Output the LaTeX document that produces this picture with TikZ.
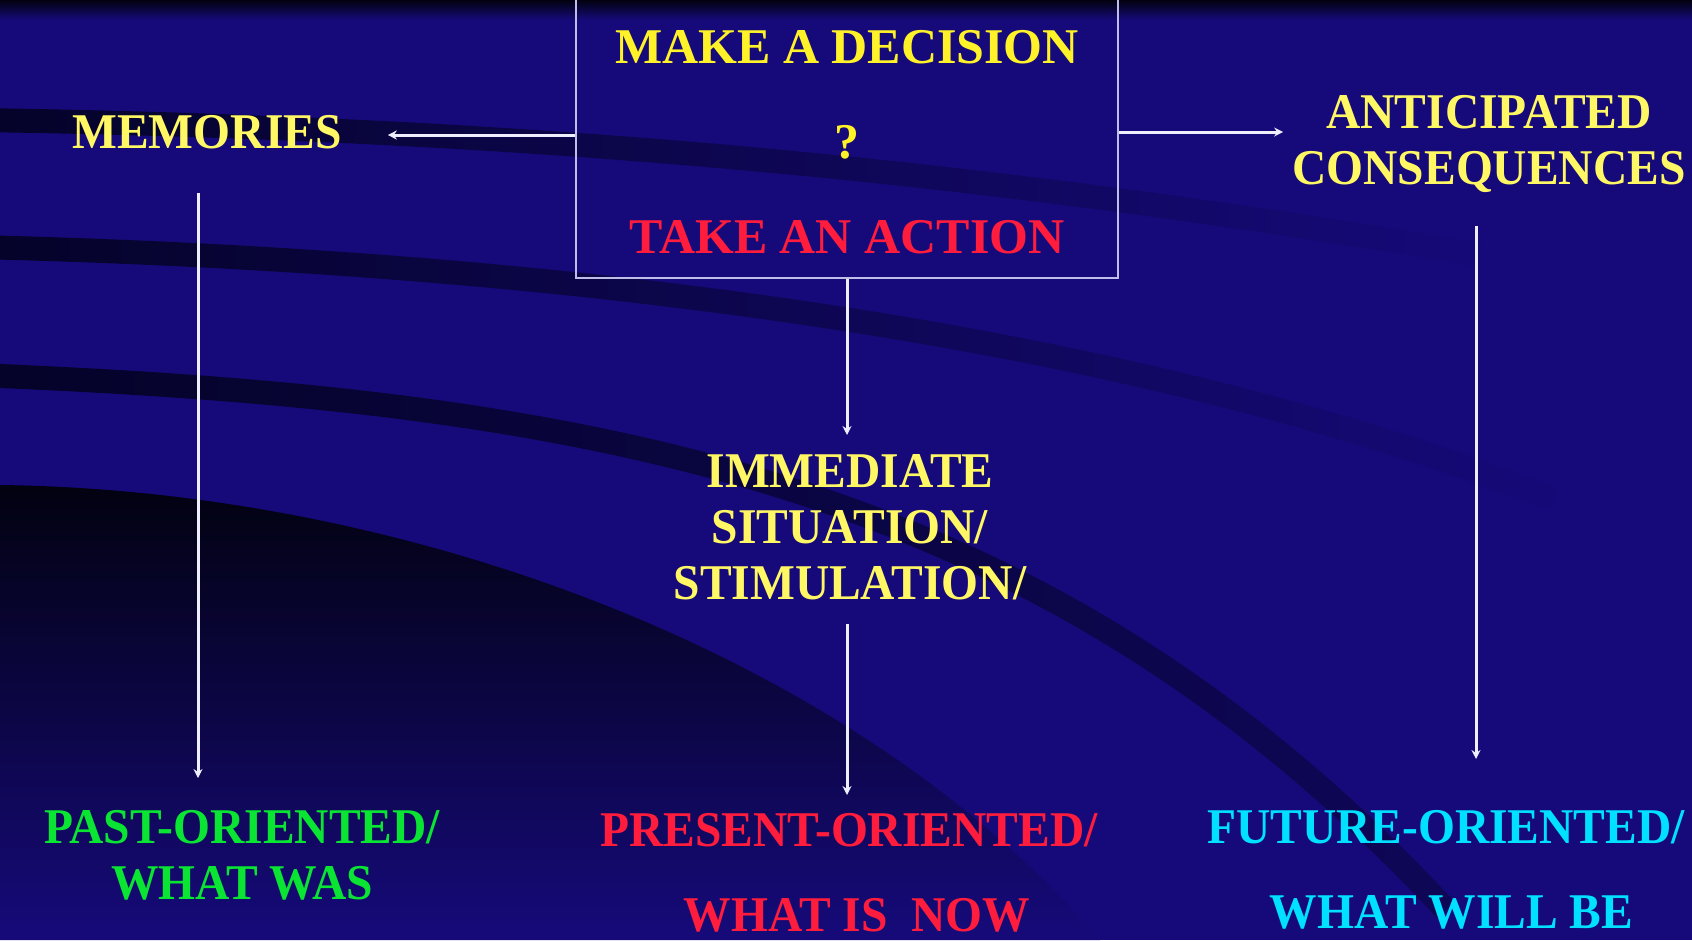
\documentclass[tikz,border=0pt]{standalone}
\usepackage{fontspec}
\setmainfont{Liberation Serif}[FakeStretch=0.95]
\newfontfamily\boxfont{Liberation Serif}
\usetikzlibrary{arrows.meta,fadings}
\definecolor{bgblue}{RGB}{22,10,122}
\definecolor{bandc}{RGB}{4,3,36}
\definecolor{darkc}{RGB}{2,2,16}
\definecolor{ylw}{RGB}{255,242,40}
\definecolor{pylw}{RGB}{255,248,100}
\definecolor{rd}{RGB}{255,28,60}
\definecolor{grn}{RGB}{10,228,50}
\definecolor{cyn}{RGB}{0,225,255}
\definecolor{boxline}{RGB}{190,190,235}
\definecolor{arrw}{RGB}{238,238,255}
\tikzfading[name=fadeband, left color=transparent!5, right color=transparent!100]
\tikzfading[name=fadebandb, left color=transparent!5, right color=transparent!60]
\begin{document}
\begin{tikzpicture}[x=1pt,y=-1pt,
  lbl/.style={font=\fontsize{50}{56}\selectfont\bfseries, inner sep=0pt, align=center},
  boxlbl/.style={font=\fontsize{50}{56}\selectfont\boxfont\bfseries, inner sep=0pt, anchor=base},
  arr/.style={draw=arrw, line width=3pt, -{Stealth[length=9pt,width=9pt]}},
  band/.style={draw=bandc, line width=24pt}]
\clip (0,0) rectangle (1692,940);
% background
\fill[bgblue] (0,0) rectangle (1692,940);
\shade[top color=darkc, bottom color=bgblue] (0,0) rectangle (1692,20);
\draw[band, path fading=fadeband] (-20,120) .. controls (500,128) and (950,165) .. (1480,255);
\draw[band, path fading=fadeband] (-20,247) .. controls (600,262) and (1150,340) .. (1560,500);
\draw[band, path fading=fadebandb] (-20,375) .. controls (600,400) and (1050,480) .. (1450,910);
\shade[top color=darkc, bottom color=bgblue] (0,485) .. controls (400,490) and (850,650) .. (1100,940) -- (0,940) -- cycle;
% decision box
\node[draw=boxline, line width=2pt, minimum width=542pt, minimum height=284pt, inner sep=0pt] (decision) at (847,136) {};
\node[boxlbl, text=ylw] (dec1) at (847,63) {MAKE A DECISION};
\node[boxlbl, text=ylw] (dec2) at (847,158) {?};
\node[boxlbl, text=rd] (dec3) at (847,253) {TAKE AN ACTION};
% other labels
\node[lbl, text=pylw, anchor=base] (mem) at (207,148) {MEMORIES};
\node[lbl, text=pylw, anchor=north] (anti) at (1489,95) {ANTICIPATED\\CONSEQUENCES};
\node[lbl, text=pylw, anchor=north] (imm) at (850,454) {IMMEDIATE\\SITUATION/\\STIMULATION/};
\node[lbl, text=grn, anchor=north] (past) at (242,810) {PAST-ORIENTED/\\WHAT WAS};
\node[lbl, text=rd, anchor=north] (pres) at (849,813) {PRESENT-ORIENTED/\\[29pt]\hspace*{16pt}WHAT IS\ \ NOW};
\node[lbl, text=cyn, anchor=north] (fut) at (1446,810) {FUTURE-ORIENTED/\\[29pt]\hspace*{11pt}WHAT WILL BE};
% connectors
\draw[arr, shorten >=46pt] (decision.west |- 0,135) -- (mem.east |- 0,135);
\draw[arr, shorten >=9pt] (decision.east |- 0,132) -- (anti.west |- 0,132);
\draw[arr, shorten >=19pt] (decision.south) -- (decision.south |- imm.north);
\draw[arr, shorten <=24pt, shorten >=18pt] (imm.south -| decision.south) -- (pres.north -| decision.south);
\draw[arr, shorten <=44pt, shorten >=32pt] (mem.south -| 198,0) -- (past.north -| 198,0);
\draw[arr, shorten <=33pt, shorten >=51pt] (anti.south -| 1476,0) -- (fut.north -| 1476,0);
\end{tikzpicture}
\end{document}
